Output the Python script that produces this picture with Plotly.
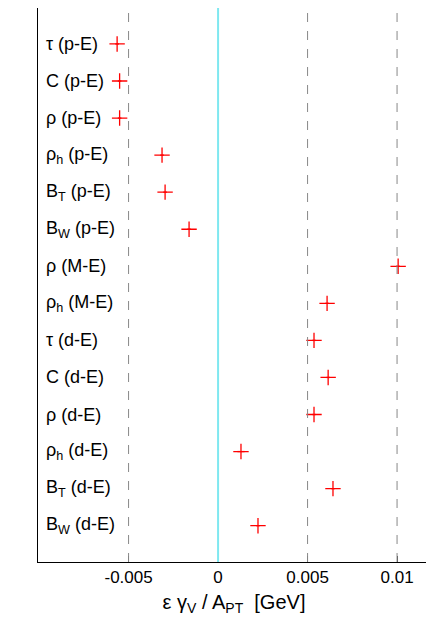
import plotly.graph_objects as go

labels = ["τ (p-E)", "C (p-E)", "ρ (p-E)", "ρ<sub>h</sub> (p-E)", "B<sub>T</sub> (p-E)", "B<sub>W</sub> (p-E)",
          "ρ (M-E)", "ρ<sub>h</sub> (M-E)", "τ (d-E)", "C (d-E)", "ρ (d-E)", "ρ<sub>h</sub> (d-E)",
          "B<sub>T</sub> (d-E)", "B<sub>W</sub> (d-E)"]
values = [-0.00564, -0.0055, -0.0055, -0.00313, -0.00296, -0.00162,
          0.01006, 0.00609, 0.00536, 0.00615, 0.00536, 0.00128, 0.00642, 0.00223]
errors = [0.0001, 0.0001, 0.0001, 0.0001, 0.0001, 0.0001,
          0.0001, 0.0001, 0.0001, 0.0001, 0.0001, 0.0002, 0.0001, 0.0001]
ypos = list(range(len(labels)))

fig = go.Figure()
fig.add_trace(go.Scatter(
    x=values, y=ypos, mode="markers",
    marker=dict(symbol="cross-thin-open", size=11, color="red", line=dict(color="red", width=1.3)),
    error_x=dict(type="data", array=errors, color="red", thickness=1.3, width=0),
    showlegend=False))

for xv in [-0.005, 0.005, 0.01]:
    fig.add_vline(x=xv, line=dict(color="#888", width=1, dash="dash"))
fig.add_vline(x=0, line=dict(color="#7fe8f0", width=2))

fig.update_layout(
    width=426, height=619, plot_bgcolor="white", paper_bgcolor="white",
    margin=dict(l=30, r=4, t=0, b=65),
    font=dict(family="Liberation Sans, Arial, sans-serif", size=17, color="black"),
    xaxis=dict(range=[-0.01006, 0.01184], tickvals=[-0.005, 0, 0.005, 0.01],
               ticktext=["-0.005", "0", "0.005", "0.01"], showgrid=False, zeroline=False,
               showline=True, mirror=True, linecolor="black", linewidth=1,
               ticks="inside", ticklen=6,
               title=dict(text="ε γ<sub>V</sub> / A<sub>PT</sub>  [GeV]", standoff=8)),
    yaxis=dict(range=[13.98, -0.97], showgrid=False, zeroline=False, showticklabels=False,
               showline=True, mirror=True, linecolor="black", linewidth=1),
)
for i, lab in enumerate(labels):
    fig.add_annotation(x=0, xref="paper", y=ypos[i], yref="y", text=lab, showarrow=False,
                       xanchor="left", xshift=6, font=dict(size=18))

fig.write_html("out.html")
